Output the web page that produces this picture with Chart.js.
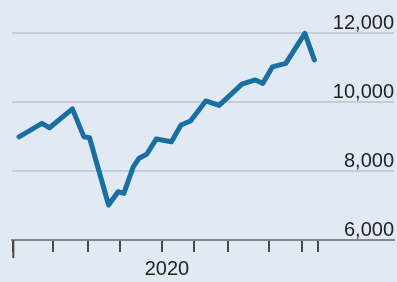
<!DOCTYPE html>
<html>
<head>
<meta charset="utf-8">
<script src="https://cdn.jsdelivr.net/npm/chart.js@4.4.1/dist/chart.umd.min.js"></script>
<style>
  html, body { margin: 0; padding: 0; background: #e1eaf3; }
  #wrap { width: 397px; height: 282px; position: relative; }
</style>
</head>
<body>
<div id="wrap"><canvas id="chart"></canvas></div>
<script>
// weeks since the first axis tick
const weeks = [3, 15, 19, 31, 37, 40, 50, 55, 58, 63, 66, 70, 75, 83, 88, 93, 101, 108, 120, 127, 131, 136, 143, 153, 158];
const values = [8990, 9380, 9255, 9800, 8995, 8965, 7015, 7400, 7350, 8125, 8370, 8485, 8925, 8850, 9335, 9450, 10030, 9900, 10520, 10640, 10540, 11020, 11120, 11990, 11220];

const tickWeeks = [0, 21, 39, 56, 78, 95, 112.5, 134, 151.5, 160];
const yTicks = [6000, 8000, 10000, 12000];
const yearTick = 78;
const yearLabel = '2020';

const FONT = "'Liberation Sans Narrow', 'Liberation Sans', sans-serif";

// the first tick on the time axis is drawn longer
const longFirstTick = {
    id: 'longFirstTick',
    afterDraw(chart) {
        const xs = chart.scales.x;
        const px = xs.getPixelForValue(tickWeeks[0]);
        const ctx = chart.ctx;
        ctx.save();
        ctx.strokeStyle = '#4a4a4a';
        ctx.lineWidth = 2;
        ctx.beginPath();
        ctx.moveTo(px, xs.top);
        ctx.lineTo(px, xs.top + 18);
        ctx.stroke();
        ctx.restore();
    }
};

const ctx = document.getElementById('chart').getContext('2d');
new Chart(ctx, {
    type: 'line',
    data: {
        datasets: [{
            data: weeks.map((w, i) => ({ x: w, y: values[i] })),
            borderColor: '#196ea2',
            borderWidth: 5,
            borderJoinStyle: 'round',
            borderCapStyle: 'round',
            tension: 0,
            pointRadius: 0,
            fill: false,
            clip: false
        }]
    },
    options: {
        responsive: true,
        maintainAspectRatio: false,
        animation: false,
        layout: { padding: { left: 12, right: 3, top: 33, bottom: 0 } },
        plugins: { legend: { display: false }, tooltip: { enabled: false } },
        scales: {
            x: {
                type: 'linear',
                min: -0.7,
                max: 199.8,
                afterBuildTicks: s => { s.ticks = tickWeeks.map(v => ({ value: v })); },
                afterFit: s => { s.height = 42; },
                grid: { drawOnChartArea: false, drawTicks: true, tickLength: 12, color: '#4a4a4a', lineWidth: 2 },
                border: { display: true, color: '#85898c', width: 2 },
                ticks: {
                    autoSkip: false,
                    maxRotation: 0,
                    padding: 5,
                    labelOffset: 5,
                    color: '#222',
                    font: { family: FONT, size: 20 },
                    callback: v => v === yearTick ? yearLabel : ''
                }
            },
            y: {
                position: 'right',
                min: 6000,
                max: 12000,
                afterBuildTicks: s => { s.ticks = yTicks.map(v => ({ value: v })); },
                grid: { color: '#c5cdd4', lineWidth: 2, drawTicks: false },
                border: { display: false },
                ticks: {
                    mirror: true,
                    padding: 0,
                    labelOffset: -10,
                    color: '#222',
                    font: { family: FONT, size: 20 },
                    callback: v => v.toLocaleString('en-US')
                }
            }
        }
    },
    plugins: [longFirstTick]
});
</script>
</body>
</html>
